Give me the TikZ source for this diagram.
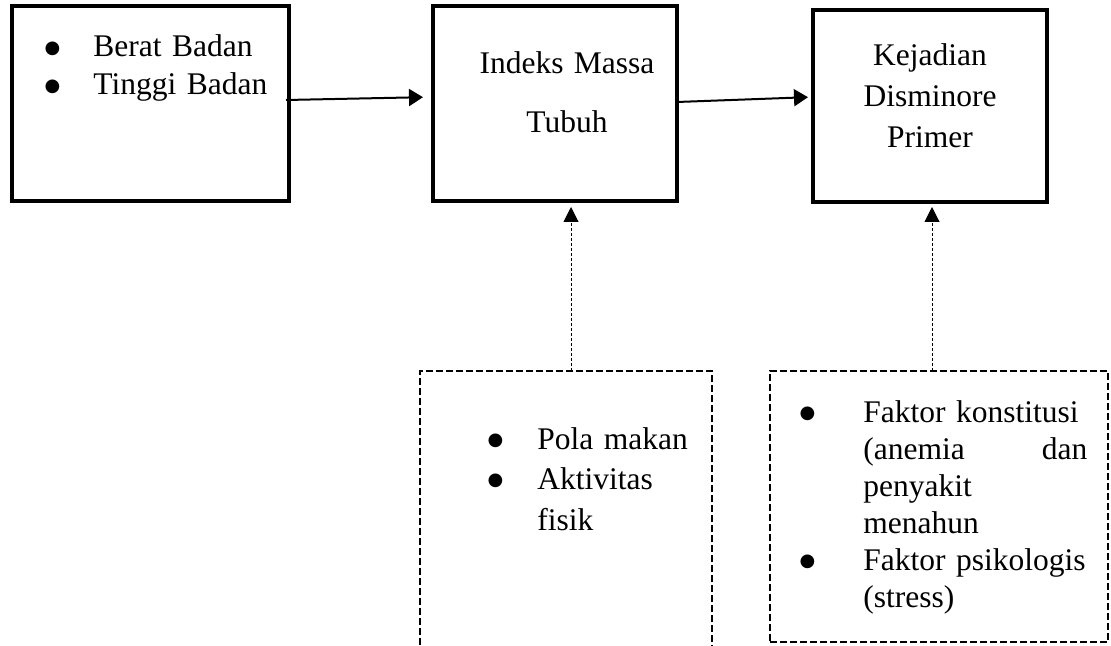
\documentclass[tikz,border=0pt]{standalone}
\usepackage{fontspec}
\setmainfont{Liberation Serif}
\newfontfamily\symfont{DejaVu Sans}
\usetikzlibrary{arrows.meta}

\newcommand{\bigbul}{\makebox[0pt]{\raisebox{1.8pt}{\symfont\fontsize{9}{0}\selectfont ●}}}
\newcommand{\itm}[2]{\makebox[#1][l]{\bigbul}#2}
\newcommand{\cnt}[2]{\hspace*{#1}#2}

\begin{document}
\begin{tikzpicture}[x=0.5pt, y=-0.5pt,
    solidbox/.style={draw, line width=1.6pt, inner sep=0pt, outer sep=0pt},
    dashbox/.style={draw, line width=1.25pt, dash pattern=on 3.5pt off 1.5pt, inner sep=0pt, outer sep=0pt},
    txt/.style={inner sep=0pt, anchor=base west, align=left},
    arr/.style={line width=1pt, -{Triangle[length=7pt,width=8.5pt]}},
    dotarr/.style={line width=0.5pt, dash pattern=on 1.5pt off 1pt, -{Triangle[length=7.5pt,width=7.5pt]}}]
      \clip (0,0) rectangle (1111,646);

      % boxes
      \node[solidbox, minimum width=138.5pt, minimum height=97.5pt] (ukur) at (150.5,103.5) {};
      \node[solidbox, minimum width=122pt, minimum height=97.5pt] (imt) at (555,103.5) {};
      \node[solidbox, minimum width=117pt, minimum height=96pt] (dis) at (930,106) {};
      \node[dashbox, minimum width=146pt, minimum height=144.5pt] (fimt) at (566,515.5) {};
      \node[dashbox, minimum width=169pt, minimum height=135.5pt] (fdis) at (939,506.5) {};

      % texts
      \node[txt, text width=150pt, font=\fontsize{15.75}{19}\selectfont] (ukurtxt) at (52,57)
        {\itm{20.5pt}{Berat Badan}\\ \itm{20.5pt}{Tinggi Badan}};
      \node[txt, text width=130pt, align=center, anchor=base, font=\fontsize{15.75}{29.5}\selectfont] (imttxt) at (567,74)
        {Indeks Massa\\ Tubuh};
      \node[txt, text width=115pt, align=center, anchor=base, font=\fontsize{15.75}{20.5}\selectfont] (distxt) at (930,66)
        {Kejadian\\ Disminore\\ Primer};
      \node[txt, text width=120pt, font=\fontsize{15.75}{20.25}\selectfont] (fimttxt) at (495,449)
        {\itm{21pt}{Pola makan}\\ \itm{21pt}{Aktivitas}\\ \cnt{21pt}{fisik}};
      \node[txt, text width=145pt, font=\fontsize{15.75}{18.5}\selectfont] (fdistxt) at (807,422)
        {\itm{28pt}{\makebox[112pt][s]{Faktor konstitusi}}\\
         \cnt{28pt}{\makebox[112pt][l]{(anemia\hfill dan}}\\
         \cnt{28pt}{penyakit}\\
         \cnt{28pt}{menahun}\\
         \itm{28pt}{Faktor psikologis}\\
         \cnt{28pt}{(stress)}};

      % arrows
      \draw[arr, shorten >=5pt] ([xshift=-1.5pt,yshift=1.75pt]ukur.east) -- ([yshift=3.25pt]imt.west);
      \draw[arr, shorten >=2.5pt] ([yshift=0.75pt]imt.east) -- ([yshift=4.5pt]dis.west);
      \draw[dotarr, shorten >=3pt] ([xshift=2.5pt]fimt.north) -- ([xshift=2.5pt]fimt.north |- imt.south);
      \draw[dotarr, shorten >=2.5pt] ([xshift=1pt]dis.south |- fdis.north) -- ([xshift=1pt]dis.south);
    \end{tikzpicture}
\end{document}
